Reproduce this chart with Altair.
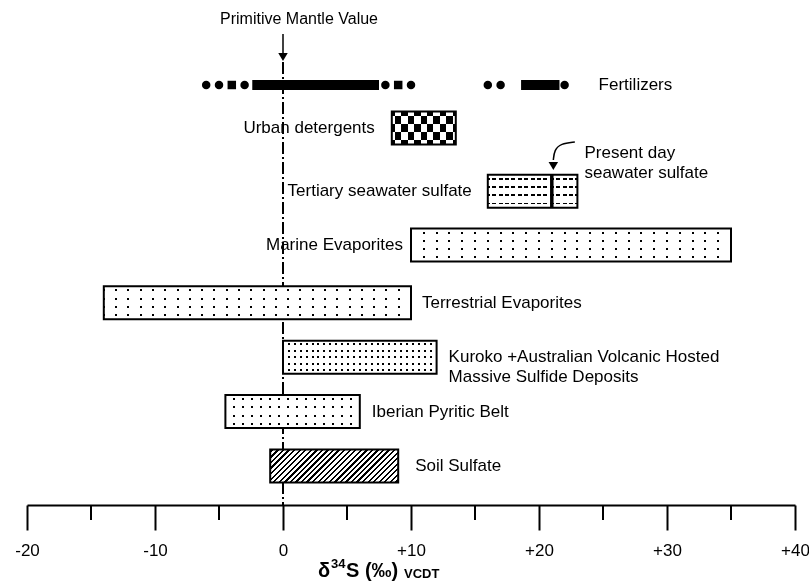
import altair as alt
import pandas as pd

# ---------------- data ----------------
categories = [
    "Fertilizers",
    "Urban detergents",
    "Tertiary seawater sulfate",
    "Marine Evaporites",
    "Terrestrial Evaporites",
    "Kuroko +Australian Volcanic Hosted\nMassive Sulfide Deposits",
    "Iberian Pyritic Belt",
    "Soil Sulfate",
]
box_low = [8.5, 16, 10, -14, 0, -4.5, -1]      # for categories[1:]
box_high = [13.5, 23, 35, 10, 12, 6, 9]
fert_bar_low = [-2.4, 18.6]
fert_bar_high = [7.5, 21.6]
fert_circles = [-6, -5, -3, 8, 10, 16, 17, 22]
fert_squares = [-4, 9]
primitive_mantle = 0
present_day_seawater = 21
x_ticks = [-20, -10, 0, 10, 20, 30, 40]
minor_ticks = [-15, -5, 5, 15, 25, 35]

# ---------------- layout / style ----------------
FONT = "Liberation Sans"
PLOT_W, PLOT_H = 768, 505
PAD_L = 27
XDOM = [-20, 40]
PXU = PLOT_W / (XDOM[1] - XDOM[0])          # pixels per x unit
ROW_PX, ROW0 = 54.43, 85.0                  # row spacing in px, first row centre
row_pos = [0, 0.79, 1.95, 2.94, 4, 5, 6, 7]  # vertical order of the rows
BOX_H = 33.0


def prow(py):
    return (py - ROW0) / ROW_PX


Y_TOP, Y_BOT = prow(0), prow(PLOT_H)
HALF = BOX_H / 2 / ROW_PX

xs = alt.Scale(domain=XDOM, nice=False, zero=False)
ys = alt.Scale(domain=[Y_TOP, Y_BOT], reverse=True, nice=False, zero=False)

axis = alt.Axis(
    values=x_ticks,
    labelExpr="datum.value > 0 ? '+' + datum.value : (datum.value < 0 ? '-' + abs(datum.value) : '0')",
    tickSize=25, tickWidth=2, tickColor="black",
    domainWidth=2, domainColor="black",
    labelColor="black", labelFont=FONT, labelFontSize=17, labelPadding=12,
    labelOverlap=False, labelFlush=False, labelBound=False,
    grid=False, title=None,
)


def X(field):
    return alt.X(field, scale=xs, axis=axis)


def Y(field):
    return alt.Y(field, scale=ys, axis=None)


label_style = dict(font=FONT, fontSize=17, color="black")

# pattern per box (categories[1:])
patterns = [
    ("checker", 13.0, 16.5),
    ("dots", 6.5, 8.25, 4.0, 1.6),
    ("dots", 13.0, 8.25, 2.0, 2.0),
    ("dots", 12.5, 8.25, 2.0, 2.0),
    ("dots", 6.0, 6.6, 2.0, 2.0),
    ("dots", 9.0, 8.25, 2.0, 2.0),
    ("hatch", 5.5, 0.42),
]


def bands(n, frac, on, off):
    stops = []
    for i in range(n):
        a = (i + (1 - frac) / 2) / n
        b = (i + (1 + frac) / 2) / n
        stops += [(i / n, off), (a, off), (a, on), (b, on), (b, off), ((i + 1) / n, off)]
    return [{"offset": round(min(max(o, 0.0), 1.0), 5), "color": c} for o, c in stops]


def lin(stops, x2, y2):
    return {"gradient": "linear", "x1": 0, "y1": 0, "x2": x2, "y2": y2, "stops": stops}


def enc_rect(ch):
    return ch.encode(x=X("lo:Q"), x2="hi:Q", y=Y("y1:Q"), y2="y2:Q")


layers = []

# dashed primitive-mantle line
pm = pd.DataFrame({"x": [primitive_mantle], "y1": [prow(62)], "y2": [Y_BOT]})
layers.append(
    alt.Chart(pm).mark_rule(color="black", strokeWidth=2, strokeDash=[12, 3, 2, 3])
    .encode(x=X("x:Q"), y=Y("y1:Q"), y2="y2:Q")
)

# minor ticks
layers.append(
    alt.Chart(pd.DataFrame({"x": minor_ticks})).mark_rule(color="black", strokeWidth=2)
    .encode(x=X("x:Q"), y=alt.value(PLOT_H), y2=alt.value(PLOT_H + 15))
)

# boxes with patterns
for name, lo, hi, r, pat in zip(categories[1:], box_low, box_high, row_pos[1:], patterns):
    df = pd.DataFrame({"name": [name], "lo": [lo], "hi": [hi], "y1": [r - HALF], "y2": [r + HALF]})
    W = (hi - lo) * PXU
    H = BOX_H
    base = alt.Chart(df)
    if pat[0] == "dots":
        _, px, py, dw, dh = pat
        nr = max(1, round(H / py))
        nc = max(1, round(W / px))
        fa = lin(bands(nr, dh / (H / nr), "black", "white"), 0, 1)
        fb = lin(bands(nc, 1 - dw / (W / nc), "white", "rgba(255,255,255,0)"), 1, 0)
        layers.append(enc_rect(base.mark_rect(fill=fa, strokeWidth=0)))
        layers.append(enc_rect(base.mark_rect(fill=fb, strokeWidth=0)))
    elif pat[0] == "checker":
        _, px, py = pat
        nr = max(1, round(H / py))
        nc = max(1, round(W / px))
        fa = lin(bands(nr, 0.5, "black", "white"), 0, 1)
        fb = lin(bands(nc, 0.5, "black", "white"), 1, 0)
        layers.append(enc_rect(base.mark_rect(fill=fa, strokeWidth=0)))
        layers.append(enc_rect(base.mark_rect(fill=fb, strokeWidth=0, blend="difference")))
    else:  # hatch "/"
        _, sp, frac = pat
        rr = H / W
        dx = (1 + rr) / (1 + rr * rr)
        n = max(1, round((W + H) / sp))
        fh = lin(bands(n, frac, "black", "white"), dx, dx * rr)
        layers.append(enc_rect(base.mark_rect(fill=fh, strokeWidth=0)))
    layers.append(enc_rect(base.mark_rect(fillOpacity=0, stroke="black", strokeWidth=2)))

# present-day seawater line inside the tertiary box
r2 = row_pos[2]
layers.append(
    alt.Chart(pd.DataFrame({"x": [present_day_seawater], "y1": [r2 - HALF], "y2": [r2 + HALF]}))
    .mark_rule(color="black", strokeWidth=3.5)
    .encode(x=X("x:Q"), y=Y("y1:Q"), y2="y2:Q")
)

# fertilizers
fh = 5.0 / ROW_PX
fb_df = pd.DataFrame({"lo": fert_bar_low, "hi": fert_bar_high,
                      "y1": [row_pos[0] - fh] * 2, "y2": [row_pos[0] + fh] * 2})
layers.append(enc_rect(alt.Chart(fb_df).mark_rect(color="black")))
layers.append(
    alt.Chart(pd.DataFrame({"x": fert_circles, "y": [row_pos[0]] * len(fert_circles)}))
    .mark_point(shape="circle", filled=True, size=72, color="black", opacity=1)
    .encode(x=X("x:Q"), y=Y("y:Q"))
)
layers.append(
    alt.Chart(pd.DataFrame({"x": fert_squares, "y": [row_pos[0]] * len(fert_squares)}))
    .mark_point(shape="square", filled=True, size=72, color="black", opacity=1)
    .encode(x=X("x:Q"), y=Y("y:Q"))
)

# category labels (anchor value + pixel gap)
lab_anchor = [fert_circles[-1], box_low[0], box_low[1], box_low[2], box_high[3], box_high[4], box_high[5], box_high[6]]
lab_gap = [34, -17, -16, -8, 11, 12, 12, 17]
lab_df = pd.DataFrame({
    "name": categories,
    "x": [a + g / PXU for a, g in zip(lab_anchor, lab_gap)],
    "y": row_pos,
    "side": ["left" if g > 0 else "right" for g in lab_gap],
})
for side in ["left", "right"]:
    layers.append(
        alt.Chart(lab_df[lab_df.side == side])
        .mark_text(align=side, baseline="middle", lineBreak="\n", lineHeight=20, **label_style)
        .encode(x=X("x:Q"), y=Y("y:Q"), text="name:N")
    )

# Primitive mantle annotation
one = pd.DataFrame({"x": [primitive_mantle]})
layers.append(
    alt.Chart(one).mark_text(text="Primitive Mantle Value", baseline="middle", align="center",
                             dx=16, font=FONT, fontSize=16, color="black")
    .encode(x=X("x:Q"), y=alt.value(19))
)
layers.append(
    alt.Chart(one).mark_rule(color="black", strokeWidth=1.5)
    .encode(x=X("x:Q"), y=alt.value(34), y2=alt.value(54))
)
layers.append(
    alt.Chart(one).mark_point(shape="triangle-down", filled=True, size=90, color="black", opacity=1)
    .encode(x=X("x:Q"), y=alt.value(57))
)

# Present-day seawater annotation (curved arrow)
arrow_x = [22.8, 21.7, 21.2, 21.12]
arrow_py = [142, 143.5, 150, 160]
arr = pd.DataFrame({"x": arrow_x, "y": [prow(p) for p in arrow_py], "o": list(range(4))})
layers.append(
    alt.Chart(arr).mark_line(color="black", strokeWidth=1.5, interpolate="basis")
    .encode(x=X("x:Q"), y=Y("y:Q"), order="o:O")
)
layers.append(
    alt.Chart(pd.DataFrame({"x": [arrow_x[-1]], "y": [prow(166)]}))
    .mark_point(shape="triangle-down", filled=True, size=90, color="black", opacity=1)
    .encode(x=X("x:Q"), y=Y("y:Q"))
)
layers.append(
    alt.Chart(pd.DataFrame({"x": [23.55], "y": [prow(153)], "t": ["Present day\nseawater sulfate"]}))
    .mark_text(align="left", baseline="middle", lineBreak="\n", lineHeight=20, **label_style)
    .encode(x=X("x:Q"), y=Y("y:Q"), text="t:N")
)

# axis title  δ34S (‰) VCDT
title_parts = [
    ("δ", 291, 577, 20),
    ("34", 304, 568, 13),
    ("S (‰)", 319, 577, 20),
    ("VCDT", 377, 578, 13),
]
for t, tx, ty, fs in title_parts:
    layers.append(
        alt.Chart(one).mark_text(text=t, align="left", baseline="alphabetic", font=FONT,
                                 fontSize=fs, fontWeight="bold", color="black")
        .encode(x=alt.value(tx), y=alt.value(ty))
    )

chart = (
    alt.layer(*layers)
    .properties(
        width=PLOT_W,
        height=PLOT_H,
        background="white",
        padding={"left": PAD_L, "top": 0, "right": 14, "bottom": 77},
        autosize=alt.AutoSizeParams(type="none"),
    )
    .configure_view(stroke="transparent", strokeWidth=0)
)

chart.save("out.html", embed_options={"renderer": "svg", "actions": False})
